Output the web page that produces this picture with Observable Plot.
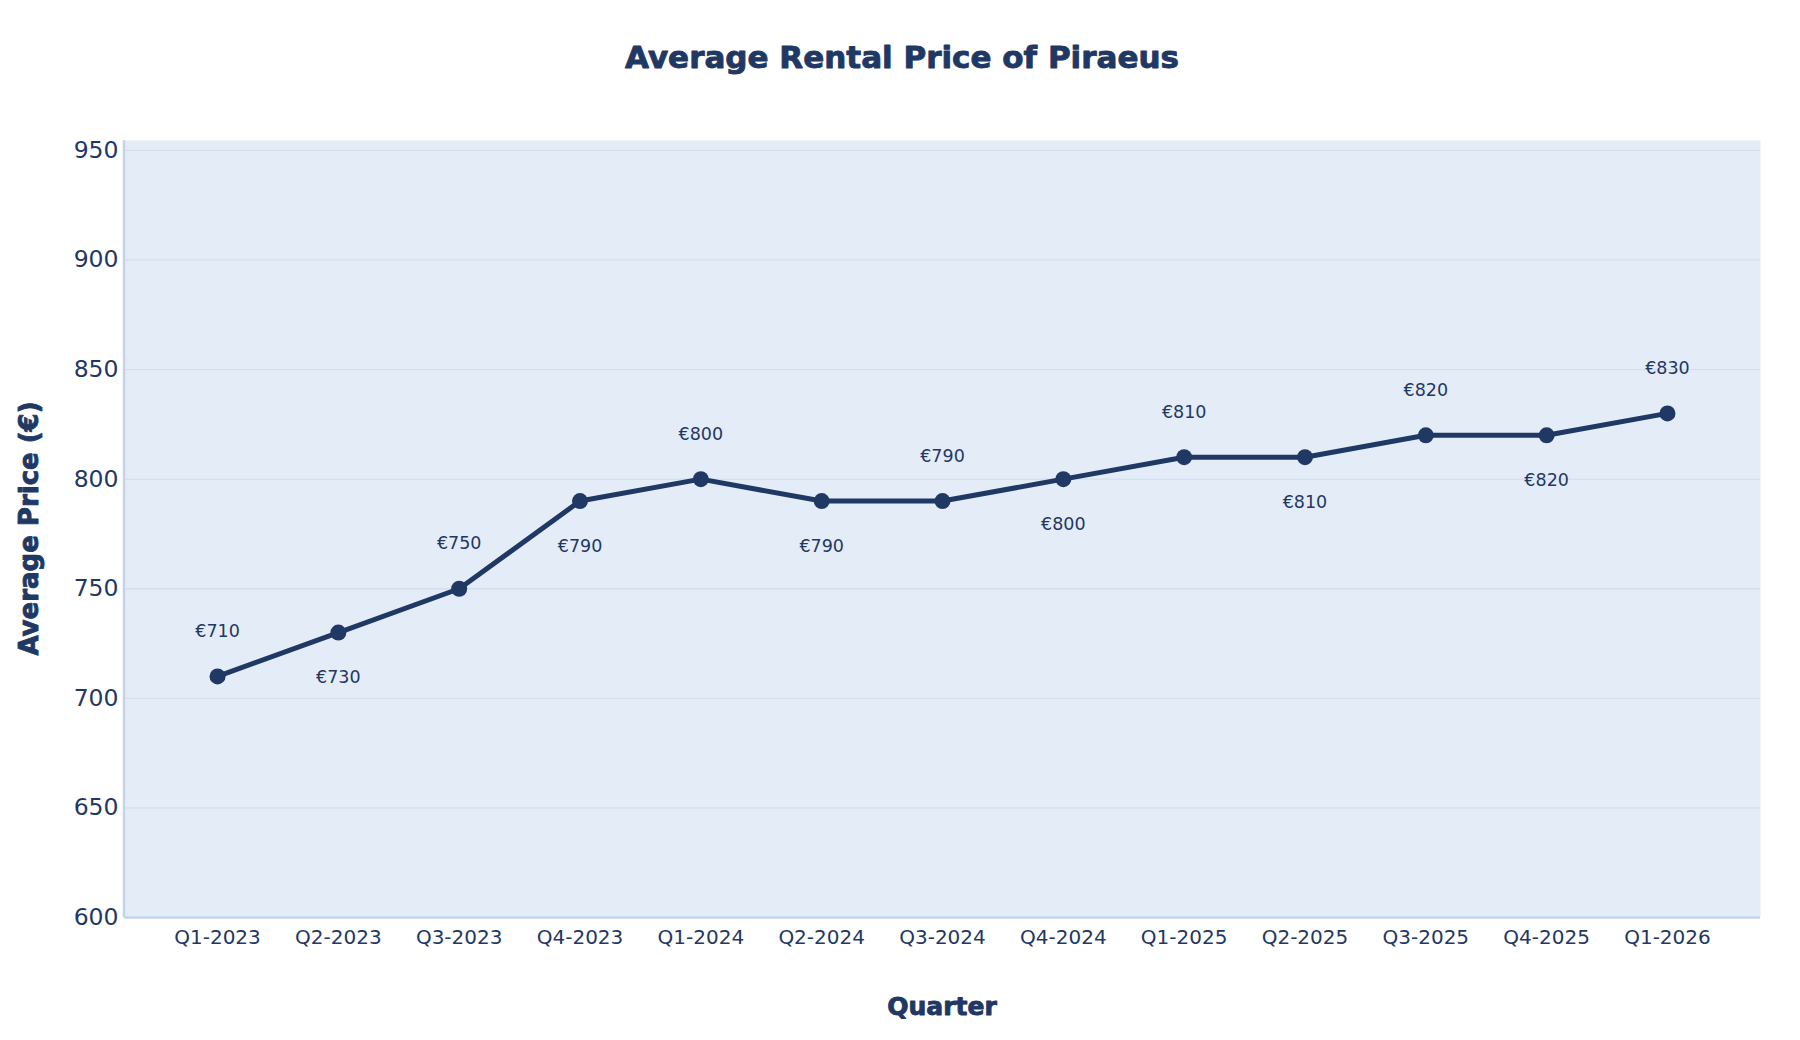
<!DOCTYPE html>
<html>
<head>
<meta charset="utf-8">
<script src="https://cdn.jsdelivr.net/npm/d3@7"></script>
<script src="https://cdn.jsdelivr.net/npm/@observablehq/plot@0.6"></script>
<style>
  html, body { margin: 0; padding: 0; background: #ffffff; }
  #chart { width: 1800px; height: 1040px; }
</style>
</head>
<body>
<div id="chart"></div>
<script>
const titleText = "Average Rental Price of Piraeus";
const xTitle = "Quarter";
const yTitle = "Average Price (€)";
const quarters = ["Q1-2023","Q2-2023","Q3-2023","Q4-2023","Q1-2024","Q2-2024","Q3-2024","Q4-2024","Q1-2025","Q2-2025","Q3-2025","Q4-2025","Q1-2026"];
const prices = [710, 730, 750, 790, 800, 790, 790, 800, 810, 810, 820, 820, 830];
const labelSide = ["top","bottom","top","bottom","top","bottom","top","bottom","top","bottom","top","bottom","top"];
const yTicks = [600, 650, 700, 750, 800, 850, 900, 950];

const navy = "#1f3864";
const data = quarters.map((q, i) => ({q, v: prices[i], side: labelSide[i], label: "€" + prices[i]}));

const W = 1800, H = 1040;
const mL = 124, mR = 40, mT = 140, mB = 123;

const chart = Plot.plot({
  width: W, height: H,
  marginLeft: mL, marginRight: mR, marginTop: mT, marginBottom: mB,
  style: {fontFamily: "'DejaVu Sans', Verdana, sans-serif", color: navy, background: "#ffffff"},
  x: {type: "point", domain: quarters, padding: 0.77, round: false, label: null},
  y: {domain: [600, 954.5], label: null},
  marks: [
    Plot.frame({fill: "#e4ecf7", stroke: null}),
    Plot.ruleY(yTicks, {stroke: "#d3deef", strokeWidth: 1.3}),
    Plot.ruleY([600], {stroke: "#c6d4e8", strokeWidth: 2.5}),
    Plot.axisY({ticks: yTicks, tickSize: 0, tickPadding: 6, fontSize: 23.5, fill: navy, label: null}),
    Plot.axisX({tickSize: 0, tickPadding: 12, fontSize: 20, fill: navy, label: null}),
    Plot.line(data, {x: "q", y: "v", stroke: navy, strokeWidth: 5}),
    Plot.dot(data, {x: "q", y: "v", r: 8, fill: navy, stroke: null}),
    Plot.text(data.filter(d => d.side === "top"), {x: "q", y: "v", text: "label", dy: -45, fontSize: 17.5, fill: navy}),
    Plot.text(data.filter(d => d.side === "bottom"), {x: "q", y: "v", text: "label", dy: 45, fontSize: 17.5, fill: navy})
  ]
});

document.getElementById("chart").appendChild(chart);

const svg = d3.select(chart);

// left axis line along the frame edge
svg.insert("line", "g[aria-label='line']")
  .attr("x1", mL).attr("x2", mL)
  .attr("y1", mT).attr("y2", H - mB)
  .attr("stroke", "#c6d4e8").attr("stroke-width", 2.5);

function heavy(sel) {
  return sel.attr("font-family", "'DejaVu Sans', sans-serif")
    .attr("font-weight", "bold")
    .attr("fill", navy)
    .attr("stroke", navy)
    .attr("stroke-width", 0.9)
    .attr("stroke-linejoin", "round");
}

heavy(svg.append("text")
  .attr("x", 902).attr("y", 68)
  .attr("text-anchor", "middle")
  .attr("font-size", 31))
  .text(titleText);

heavy(svg.append("text")
  .attr("x", (mL + (W - mR)) / 2).attr("y", 1015)
  .attr("text-anchor", "middle")
  .attr("font-size", 25))
  .text(xTitle);

heavy(svg.append("text")
  .attr("transform", "translate(38," + ((mT + (H - mB)) / 2) + ") rotate(-90)")
  .attr("text-anchor", "middle")
  .attr("font-size", 26))
  .text(yTitle);
</script>
</body>
</html>
